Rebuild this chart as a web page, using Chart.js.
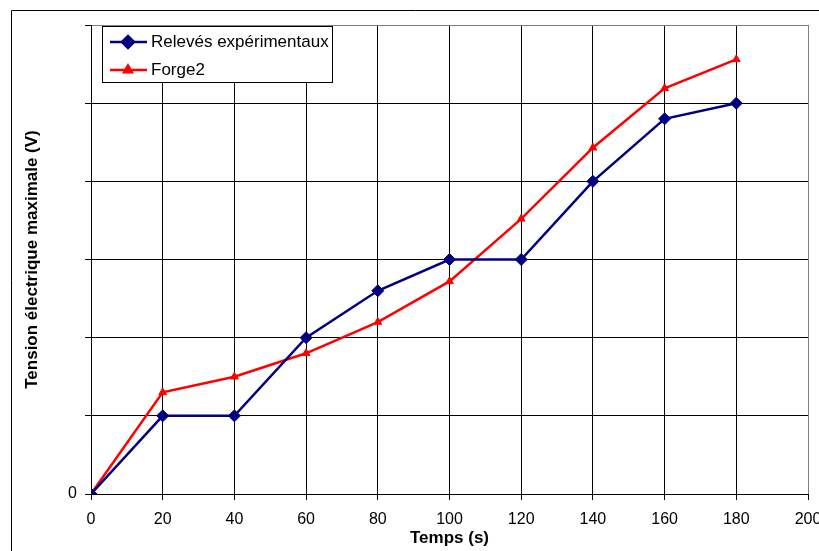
<!DOCTYPE html>
<html>
<head>
<meta charset="utf-8">
<script src="https://cdn.jsdelivr.net/npm/chart.js@4/dist/chart.umd.min.js"></script>
<style>
html,body{margin:0;padding:0;background:#fff;}
canvas{display:block;}
</style>
</head>
<body>
<canvas id="c" width="819" height="551"></canvas>
<script>
const times = [0, 20, 40, 60, 80, 100, 120, 140, 160, 180];
const releves = [0, 1, 1, 2, 2.6, 3, 3, 4, 4.8, 5];
const forge2 = [0, 1.3, 1.5, 1.8, 2.2, 2.72, 3.52, 4.43, 5.19, 5.56];
const seriesNames = ['Relevés expérimentaux', 'Forge2'];
const xTitle = 'Temps (s)';
const yTitle = 'Tension électrique maximale (V)';
const yTickLabels = {0: '0'};

const FONT = "'Liberation Sans', Arial, sans-serif";

const framePlugin = {
  id: 'frame',
  beforeDraw(chart) {
    const ctx = chart.ctx;
    ctx.save();
    ctx.fillStyle = '#fff';
    ctx.fillRect(0, 0, chart.width, chart.height);
    ctx.strokeStyle = '#000';
    ctx.lineWidth = 1;
    ctx.beginPath();
    ctx.moveTo(11.5, chart.height);
    ctx.lineTo(11.5, 10.5);
    ctx.lineTo(chart.width, 10.5);
    ctx.stroke();
    ctx.restore();
  }
};

const legendBoxPlugin = {
  id: 'legendBox',
  afterDraw(chart) {
    const ctx = chart.ctx;
    const x0 = 102.5, y0 = 26.5, w = 230, h = 56;
    ctx.save();
    ctx.fillStyle = '#fff';
    ctx.strokeStyle = '#000';
    ctx.lineWidth = 1;
    ctx.fillRect(x0, y0, w, h);
    ctx.strokeRect(x0, y0, w, h);
    const rows = [42, 70];
    chart.data.datasets.forEach((ds, i) => {
      const y = rows[i];
      ctx.strokeStyle = ds.borderColor;
      ctx.lineWidth = ds.borderWidth;
      ctx.beginPath();
      ctx.moveTo(110, y);
      ctx.lineTo(147, y);
      ctx.stroke();
      ctx.fillStyle = ds.pointBackgroundColor;
      ctx.strokeStyle = ds.pointBorderColor;
      Chart.helpers.drawPoint(ctx, {
        pointStyle: ds.pointStyle,
        radius: ds.pointRadius,
        rotation: 0,
        borderWidth: 1
      }, 128, y);
      ctx.fillStyle = '#000';
      ctx.font = '17px ' + FONT;
      ctx.textAlign = 'left';
      ctx.textBaseline = 'middle';
      ctx.fillText(ds.label, 151, y);
    });
    ctx.restore();
  }
};

const toPts = (arr) => arr.map((v, i) => ({x: times[i], y: v}));

new Chart(document.getElementById('c'), {
  type: 'line',
  data: {
    datasets: [
      {
        label: seriesNames[0],
        data: toPts(releves),
        borderColor: '#000080',
        backgroundColor: '#000080',
        borderWidth: 2.5,
        pointStyle: 'rectRot',
        pointRadius: 6,
        pointBackgroundColor: '#000080',
        pointBorderColor: '#000080',
        pointBorderWidth: 1,
        tension: 0
      },
      {
        label: seriesNames[1],
        data: toPts(forge2),
        borderColor: '#FF0000',
        backgroundColor: '#FF0000',
        borderWidth: 2.5,
        pointStyle: 'triangle',
        pointRadius: 4.5,
        pointBackgroundColor: '#FF0000',
        pointBorderColor: '#FF0000',
        pointBorderWidth: 1,
        tension: 0
      }
    ]
  },
  options: {
    responsive: false,
    animation: false,
    devicePixelRatio: 1,
    layout: { padding: { left: 0, right: 11, top: 25, bottom: 0 } },
    plugins: {
      legend: { display: false },
      tooltip: { enabled: false }
    },
    scales: {
      x: {
        type: 'linear',
        min: 0,
        max: 200,
        ticks: {
          stepSize: 20,
          color: '#000',
          padding: 10,
          maxRotation: 0,
          font: { family: FONT, size: 16 }
        },
        grid: {
          color: (c) => (c.tick && c.tick.value === 200) ? '#808080' : '#000',
          lineWidth: 1,
          tickLength: 6,
          tickColor: '#000'
        },
        border: { color: '#000', width: 1 },
        title: {
          display: true,
          text: xTitle,
          color: '#000',
          font: { family: FONT, size: 17, weight: 'bold' },
          padding: { top: 0, bottom: 2 }
        },
        afterFit(scale) {
          scale.height = 57;
          scale.paddingLeft = 0;
          scale.paddingRight = 0;
        }
      },
      y: {
        min: 0,
        max: 6,
        ticks: {
          stepSize: 1,
          color: '#000',
          padding: 8,
          font: { family: FONT, size: 16 },
          callback: (v) => (yTickLabels[v] !== undefined ? yTickLabels[v] : '')
        },
        grid: {
          color: (c) => (c.tick && c.tick.value === 6) ? '#808080' : '#000',
          lineWidth: 1,
          tickLength: 6,
          tickColor: '#000'
        },
        border: { color: '#000', width: 1 },
        title: {
          display: true,
          text: yTitle,
          color: '#000',
          font: { family: FONT, size: 17, weight: 'bold' },
          padding: { top: 22, bottom: 0 }
        },
        afterFit(scale) {
          scale.width = 91;
          scale.paddingTop = 0;
          scale.paddingBottom = 0;
        }
      }
    }
  },
  plugins: [framePlugin, legendBoxPlugin]
});
</script>
</body>
</html>
